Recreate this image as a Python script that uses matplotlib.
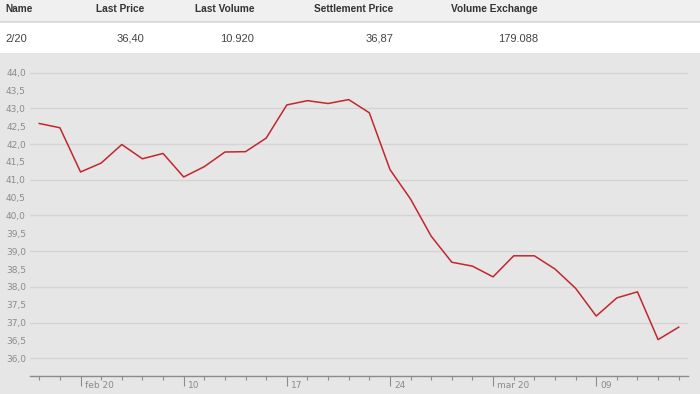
import matplotlib
matplotlib.use("Agg")
import matplotlib.pyplot as plt
from matplotlib.patches import Rectangle
from matplotlib.lines import Line2D
import numpy as np

# ---- data ----
dates = ["2020-01-30", "2020-01-31",
         "2020-02-03", "2020-02-04", "2020-02-05", "2020-02-06", "2020-02-07",
         "2020-02-10", "2020-02-11", "2020-02-12", "2020-02-13", "2020-02-14",
         "2020-02-17", "2020-02-18", "2020-02-19", "2020-02-20", "2020-02-21",
         "2020-02-24", "2020-02-25", "2020-02-26", "2020-02-27", "2020-02-28",
         "2020-03-02", "2020-03-03", "2020-03-04", "2020-03-05", "2020-03-06",
         "2020-03-09", "2020-03-10", "2020-03-11", "2020-03-12", "2020-03-13"]
prices = [42.58, 42.46, 41.22, 41.47, 41.99, 41.59, 41.74,
          41.08, 41.37, 41.78, 41.79, 42.17,
          43.10, 43.22, 43.14, 43.25, 42.88,
          41.29, 40.46, 39.42, 38.69, 38.58,
          38.28, 38.87, 38.87, 38.50, 37.96,
          37.18, 37.69, 37.86, 36.52, 36.87]
major_dates = ["2020-02-03", "2020-02-10", "2020-02-17", "2020-02-24", "2020-03-02", "2020-03-09"]
major_labels = ["feb 20", "10", "17", "24", "mar 20", "09"]
y_ticks = [36.0, 36.5, 37.0, 37.5, 38.0, 38.5, 39.0, 39.5, 40.0, 40.5,
           41.0, 41.5, 42.0, 42.5, 43.0, 43.5, 44.0]
y_grid = [36, 37, 38, 39, 40, 41, 42, 43, 44]

headers = ["Name", "Last Price", "Last Volume", "Settlement Price", "Volume Exchange"]
row = ["2/20", "36,40", "10.920", "36,87", "179.088"]

W, H = 700, 394
fig = plt.figure(figsize=(7, 3.94), dpi=100)
fig.patch.set_facecolor("#e6e6e6")

def fx(px):
    return px / W

def fy(py):
    return 1 - py / H

# header backgrounds
fig.patches.append(Rectangle((0, fy(21)), 1, 21 / H, transform=fig.transFigure,
                             facecolor="#f0f0f0", edgecolor="none", zorder=0))
fig.patches.append(Rectangle((0, fy(53)), 1, 31 / H, transform=fig.transFigure,
                             facecolor="#ffffff", edgecolor="none", zorder=0))
fig.lines.append(Line2D([0, 1], [fy(21.5), fy(21.5)], transform=fig.transFigure,
                        color="#d8d8d8", lw=1.2))

hfont = ["Liberation Sans", "DejaVu Sans"]
header_x = [5, 144, 254, 393, 538]
for i, (h, v) in enumerate(zip(headers, row)):
    ha = "left" if i == 0 else "right"
    fig.text(fx(header_x[i]), fy(9), h, ha=ha, va="center", fontsize=7.3,
             fontweight="bold", color="#333333", family=hfont)
    fig.text(fx(header_x[i]), fy(38.5), v, ha=ha, va="center", fontsize=8,
             color="#444444", family=hfont)

# ---- chart ----
ax = fig.add_axes([fx(30), fy(376), fx(688) - fx(30), (376 - 55) / H])
ax.set_facecolor("#e6e6e6")
x = np.arange(len(dates))
ax.set_xlim(-0.45, 31.45)
ax.set_ylim(35.5, 44.5)

for g in y_grid:
    ax.axhline(g, color="#d4d4d4", lw=1, zorder=1)

ax.plot(x, prices, color="#c1272d", lw=1.1, zorder=3)

for s in ["top", "right", "left"]:
    ax.spines[s].set_visible(False)
ax.spines["bottom"].set_color("#8c8c8c")
ax.spines["bottom"].set_linewidth(1)

ax.set_yticks(y_ticks)
ax.set_yticklabels([f"{v:.1f}".replace(".", ",") for v in y_ticks])
ax.tick_params(axis="y", length=0, pad=3, labelsize=6.5, labelcolor="#8f8a86")

major_idx = [dates.index(d) for d in major_dates]
ax.set_xticks(x, minor=True)
ax.set_xticks(major_idx)
ax.set_xticklabels([])
ax.tick_params(axis="x", which="minor", length=3, color="#8c8c8c", width=0.8)
ax.tick_params(axis="x", which="major", length=7, color="#8c8c8c", width=0.8)
for i, lab in zip(major_idx, major_labels):
    ax.annotate(lab, xy=(i, 0), xycoords=("data", "axes fraction"),
                xytext=(3, -7), textcoords="offset points", ha="left", va="center",
                fontsize=6.5, color="#8a8a8a")

fig.savefig("out.png", dpi=100, facecolor=fig.get_facecolor())
